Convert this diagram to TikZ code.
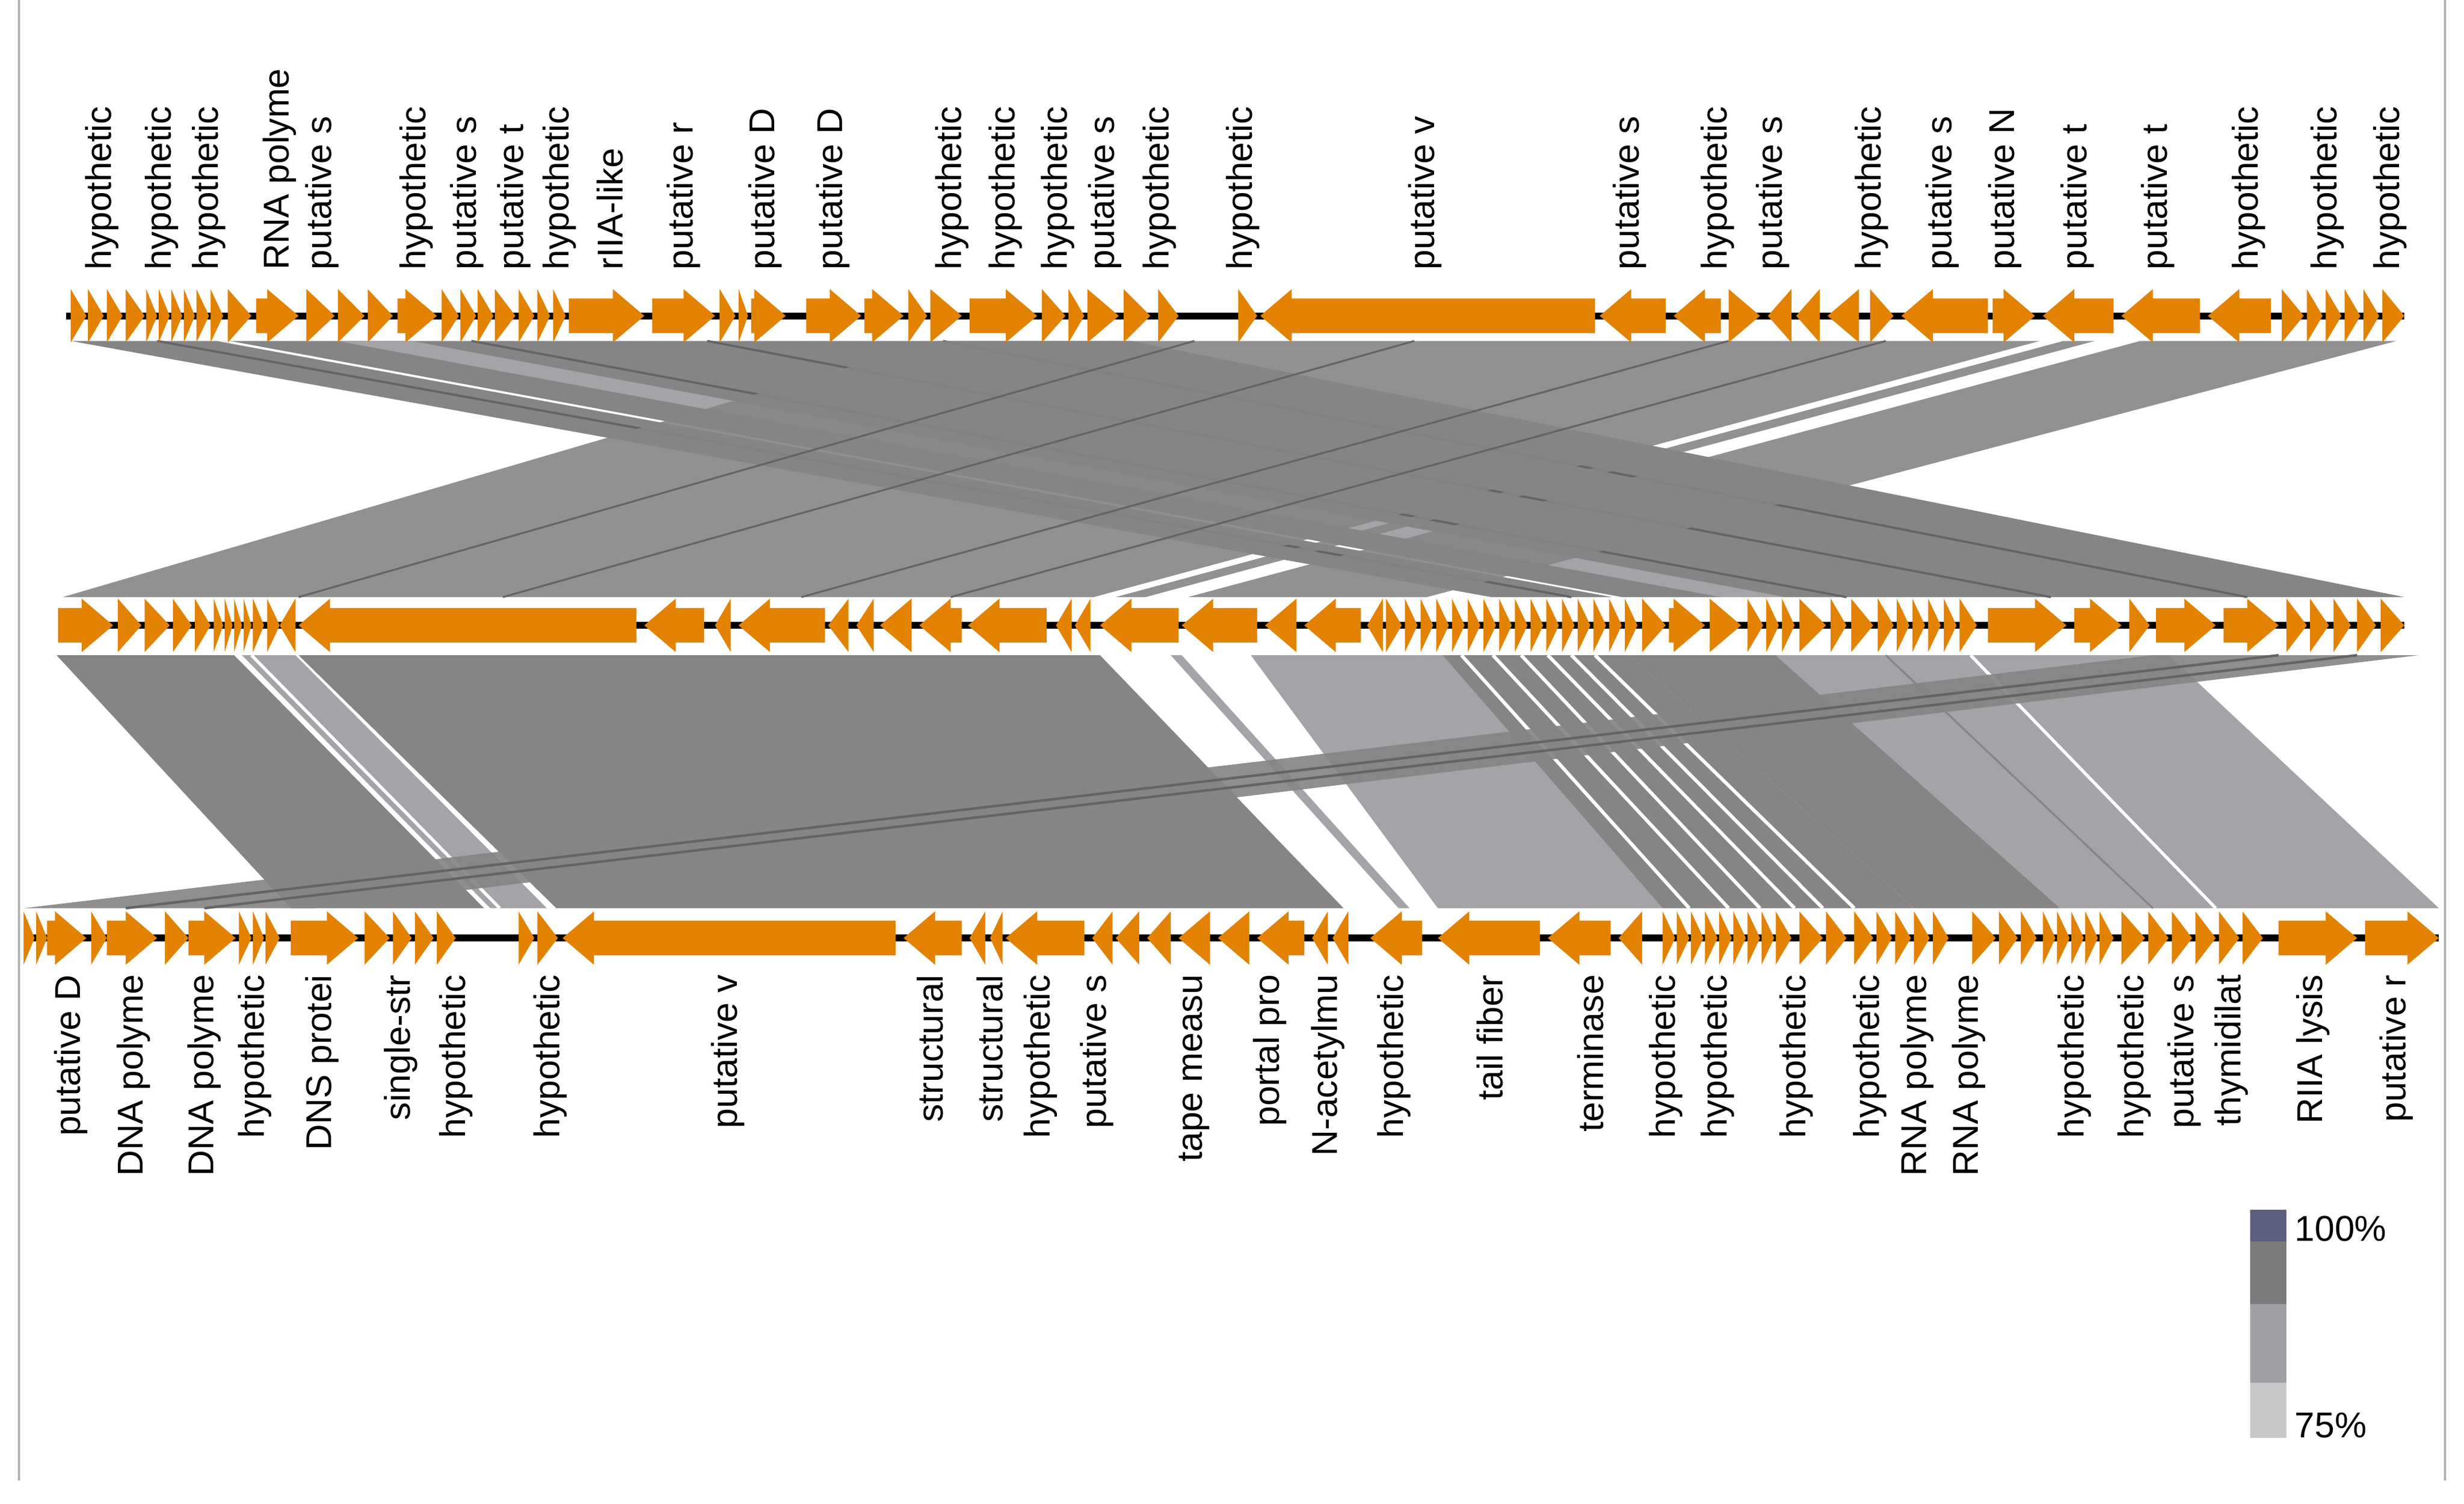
\documentclass[tikz,border=0pt]{standalone}
\usepackage{fontspec}
\setmainfont{Liberation Sans}
\begin{document}
\definecolor{gene}{RGB}{226,130,0}
\definecolor{bandA}{RGB}{133,133,133}
\definecolor{bandL}{RGB}{164,164,168}
\definecolor{bandD}{RGB}{100,100,104}
\begin{tikzpicture}[x=0.5pt,y=-0.5pt,
  lab/.style={font=\fontsize{11.4}{13}\selectfont,rotate=90,inner sep=0pt},
  toplab/.style={lab,anchor=west},
  botlab/.style={lab,anchor=east},
  frame/.style={draw=black!30,line width=0.8pt},
  backbone/.style={line width=2.2pt,black}]
\useasboundingbox (0,0) rectangle (1568,957);
\draw[frame] (12,0) -- (12,942);
\draw[frame] (1556,0) -- (1556,942);
% ---------- comparison bands, top region ----------
\def\ta{217}\def\tb{380}
\fill[bandA] (45,\ta) -- (720,\ta) -- (1530,\tb) -- (949,\tb) -- cycle;
\fill[bandL] (215,\ta) -- (262,\ta) -- (1136,\tb) -- (1095,\tb) -- cycle;
\fill[white] (138,\ta) -- (146,\ta) -- (1032,\tb) -- (1026,\tb) -- cycle;
\foreach \a/\b in {100/1000,300/1175,450/1305,600/1430}
  \draw[bandD,line width=0.7pt] (\a,\ta) -- (\b,\tb);
\fill[bandA,opacity=0.9] (597,\ta) -- (1298,\ta) -- (696,\tb) -- (40,\tb) -- cycle;
\fill[bandA,opacity=0.9] (1313,\ta) -- (1333,\ta) -- (729,\tb) -- (710,\tb) -- cycle;
\fill[bandA,opacity=0.9] (1362,\ta) -- (1525,\ta) -- (908,\tb) -- (756,\tb) -- cycle;
\foreach \a/\b in {760/190,900/320,1100/510,1200/605}
  \draw[bandD,line width=0.6pt] (\a,\ta) -- (\b,\tb);
% ---------- comparison bands, bottom region ----------
\def\ba{417}\def\bb{578}
\fill[bandA] (36,\ba) -- (149,\ba) -- (308,\bb) -- (185,\bb) -- cycle;
\fill[bandL] (154,\ba) -- (188,\ba) -- (348,\bb) -- (312,\bb) -- cycle;
\draw[white,line width=1pt] (160,\ba) -- (318,\bb);
\fill[bandA] (190,\ba) -- (700,\ba) -- (855,\bb) -- (354,\bb) -- cycle;
\fill[bandL] (745,\ba) -- (752,\ba) -- (897,\bb) -- (890,\bb) -- cycle;
\fill[bandL] (796,\ba) -- (918,\ba) -- (1058,\bb) -- (915,\bb) -- cycle;
\fill[bandA] (918,\ba) -- (1037,\ba) -- (1218,\bb) -- (1058,\bb) -- cycle;
\foreach \a/\b in {930/1075,950/1100,968/1120,985/1142,1000/1160,1015/1180}
  \draw[white,line width=1.1pt] (\a,\ba) -- (\b,\bb);
\fill[bandA] (1037,\ba) -- (1130,\ba) -- (1311,\bb) -- (1218,\bb) -- cycle;
\fill[bandL] (1130,\ba) -- (1380,\ba) -- (1552,\bb) -- (1311,\bb) -- cycle;
\draw[white,line width=1pt] (1254,\ba) -- (1410,\bb);
\draw[bandA,line width=0.6pt] (1200,\ba) -- (1370,\bb);
\fill[bandA,opacity=0.92] (1370,\ba) -- (1539,\ba) -- (200,\bb) -- (15,\bb) -- cycle;
\draw[bandD,line width=0.8pt] (1500,\ba) -- (130,\bb);
\draw[bandD,line width=0.8pt] (1450,\ba) -- (80,\bb);
% ---------- backbones ----------
\draw[backbone] (42,201) -- (1530,201);
\draw[backbone] (37,398) -- (1530,398);
\draw[backbone] (15,597) -- (1552,597);
% ---------- genes ----------
\newcommand\mygenes[2]{%
 \foreach \s/\e/\d in {#2}{%
  \pgfmathsetmacro\hl{min(20,\e-\s)}%
  \ifnum\d=1
   \fill[gene] (\s,#1-11) -- (\e-\hl,#1-11) -- (\e-\hl,#1-17) -- (\e,#1) -- (\e-\hl,#1+17) -- (\e-\hl,#1+11) -- (\s,#1+11) -- cycle;
  \else
   \fill[gene] (\e,#1-11) -- (\s+\hl,#1-11) -- (\s+\hl,#1-17) -- (\s,#1) -- (\s+\hl,#1+17) -- (\s+\hl,#1+11) -- (\e,#1+11) -- cycle;
  \fi}}
\mygenes{201}{45/55/1,56/66/1,68/78/1,80/92/1,93/100/1,101/108/1,109/116/1,117/124/1,125/133/1,134/142/1,145/160/1,163/190/1,195/213/1,215/232/1,234/250/1,253/278/1,281/292/1,293/303/1,304/314/1,315/328/1,330/340/1,342/350/1,352/360/1,362/410/1,415/455/1,458/468/1,470/476/1,478/500/1,513/548/1,550/575/1,578/590/1,592/612/1,617/660/1,663/678/1,680/690/1,692/712/1,715/732/1,737/750/1,788/800/1,802/1015/0,1018/1060/0,1065/1095/0,1100/1120/1,1125/1140/0,1143/1158/0,1163/1183/0,1190/1205/1,1210/1265/0,1268/1295/1,1300/1345/0,1350/1400/0,1405/1445/0,1452/1466/1,1468/1478/1,1480/1490/1,1492/1502/1,1504/1514/1,1516/1530/1}
\mygenes{398}{37/72/1,75/90/1,92/108/1,110/122/1,124/134/1,136/142/1,143/148/1,149/154/1,155/160/1,161/168/1,170/178/1,178/188/0,190/405/0,410/448/0,455/465/0,470/525/0,527/540/0,545/556/0,560/580/0,585/612/0,616/666/0,672/682/0,684/694/0,700/750/0,752/800/0,805/825/0,830/866/0,870/880/0,882/892/1,894/902/1,904/912/1,914/922/1,924/932/1,934/942/1,944/952/1,954/962/1,964/972/1,974/982/1,984/992/1,994/1002/1,1004/1012/1,1014/1022/1,1024/1032/1,1034/1042/1,1045/1060/1,1062/1085/1,1088/1108/1,1112/1122/1,1124/1132/1,1134/1142/1,1145/1162/1,1165/1175/1,1178/1192/1,1195/1205/1,1207/1215/1,1217/1225/1,1227/1235/1,1237/1245/1,1247/1258/1,1265/1315/1,1320/1350/1,1355/1368/1,1372/1410/1,1415/1450/1,1455/1468/1,1470/1482/1,1485/1496/1,1500/1512/1,1515/1530/1}
\mygenes{597}{15/22/1,23/30/1,30/55/1,58/68/1,68/100/1,105/120/1,120/150/1,152/160/1,161/168/1,169/178/1,185/228/1,232/248/1,250/262/1,264/276/1,278/290/1,330/340/1,342/355/1,358/570/0,575/612/0,617/627/0,630/638/0,640/690/0,695/708/0,710/725/0,730/745/0,750/770/0,775/795/0,800/830/0,835/845/0,848/858/0,872/905/0,915/980/0,985/1025/0,1030/1045/0,1058/1066/1,1067/1075/1,1076/1084/1,1085/1093/1,1094/1102/1,1103/1111/1,1112/1120/1,1121/1129/1,1130/1140/1,1145/1160/1,1162/1175/1,1180/1192/1,1194/1204/1,1206/1216/1,1218/1228/1,1230/1240/1,1255/1270/1,1272/1284/1,1286/1296/1,1300/1308/1,1309/1317/1,1318/1326/1,1327/1335/1,1336/1345/1,1350/1365/1,1367/1380/1,1382/1395/1,1397/1410/1,1412/1425/1,1427/1440/1,1450/1500/1,1505/1552/1}
% ---------- labels ----------
\foreach[count=\i] \x/\t in {65/hypothetic,103/hypothetic,133/hypothetic,178/RNA polyme,205/putative s,265/hypothetic,297/putative s,327/putative t,356/hypothetic,388/rIIA-like,435/putative r,487/putative D,530/putative D,606/hypothetic,640/hypothetic,673/hypothetic,703/putative s,738/hypothetic,791/hypothetic,907/putative v,1037/putative s,1093/hypothetic,1128/putative s,1191/hypothetic,1236/putative s,1276/putative N,1322/putative t,1373/putative t,1431/hypothetic,1481/hypothetic,1521/hypothetic}
  \node[toplab] (t\i) at (\x,172) {\t};
\foreach[count=\i] \x/\t in {45/putative D,85/DNA polyme,130/DNA polyme,162/hypothetic,205/DNS protei,255/single-str,290/hypothetic,350/hypothetic,463/putative v,592/structural,630/structural,662/hypothetic,698/putative s,760/tape measu,808/portal pro,845/N-acetylmu,887/hypothetic,948/tail fiber,1012/terminase,1060/hypothetic,1093/hypothetic,1143/hypothetic,1190/hypothetic,1220/RNA polyme,1253/RNA polyme,1320/hypothetic,1358/hypothetic,1390/putative s,1420/thymidilat,1472/RIIA lysis,1525/putative r}
  \node[botlab] (b\i) at (\x,620) {\t};
% ---------- legend ----------
\fill[fill={rgb,255:red,92;green,95;blue,126}] (1432,770) rectangle (1455,790);
\fill[fill={rgb,255:red,122;green,122;blue,124}] (1432,790) rectangle (1455,830);
\fill[fill={rgb,255:red,160;green,160;blue,164}] (1432,830) rectangle (1455,880);
\fill[fill={rgb,255:red,200;green,200;blue,202}] (1432,880) rectangle (1455,915);
\node[font=\fontsize{11.4}{13}\selectfont,anchor=west,inner sep=0pt] (l100) at (1460,782) {100\%};
\node[font=\fontsize{11.4}{13}\selectfont,anchor=west,inner sep=0pt] (l75) at (1460,907) {75\%};
\end{tikzpicture}
\end{document}
